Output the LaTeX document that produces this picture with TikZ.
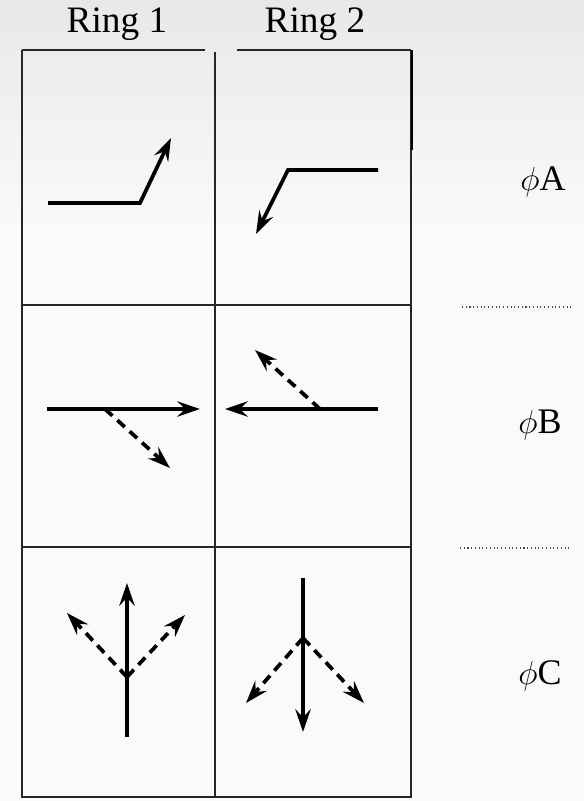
\documentclass[tikz,border=0pt]{standalone}
\usepackage{fontspec}
\setmainfont{Liberation Serif}
\usetikzlibrary{arrows.meta}
\definecolor{bgtop}{HTML}{E8E8E8}
\definecolor{bgbot}{HTML}{F9FAFB}
\tikzset{
  grid/.style={line width=1.1pt, draw=black!85},
  vec/.style={line width=2.8pt, line join=miter, -{Stealth[length=17pt,width=11.5pt,inset=6pt]}},
  dvec/.style={vec, dash pattern=on 7.5pt off 5pt},
  lab/.style={font=\fontsize{28}{32}\selectfont, inner sep=0pt},
  plab/.style={font=\fontsize{27}{31}\selectfont, inner sep=0pt},
  sep/.style={line width=0.8pt, dotted, draw=black!70}
}
\begin{document}
\begin{tikzpicture}[x=0.75pt,y=-0.75pt]
\useasboundingbox (0,0) rectangle (584,801);
\fill[bgbot] (0,0) rectangle (584,801);
\shade[top color=bgtop, bottom color=bgbot] (0,0) rectangle (584,230);
% headers
\node[lab] (r1) at (117,24) {Ring 1};
\node[lab] (r2) at (315,24) {Ring 2};
% grid
\draw[grid] (22,50) -- (205,50);
\draw[grid] (237,50) -- (411,50);
\draw[grid] (22,50) -- (22,797) -- (411,797) -- (411,50);
\draw[line width=2.2pt] (412,50) -- (412,150);
\draw[grid] (215,52) -- (215,797);
\draw[grid] (22,305) -- (411,305);
\draw[grid] (22,547) -- (411,547);
% phase labels
\node[plab] (pa) at (543,182) {$\phi$A};
\node[plab] (pb) at (540,425) {$\phi$B};
\node[plab] (pc) at (540,676) {$\phi$C};
\draw[sep] (462,307) -- (572,307);
\draw[sep] (460,548) -- (570,548);
% phase A
\coordinate (a1s) at (48,203); \coordinate (a1k) at (140,203); \coordinate (a1e) at (171,138);
\draw[vec] (a1s) -- (a1k) -- (a1e);
\coordinate (a2s) at (378,170); \coordinate (a2k) at (288,170); \coordinate (a2e) at (256,234);
\draw[vec] (a2s) -- (a2k) -- (a2e);
% phase B
\coordinate (b1s) at (47,409); \coordinate (b1e) at (200,409);
\coordinate (b1d) at (105,409); \coordinate (b1de) at (170,468);
\draw[vec] (b1s) -- (b1e);
\draw[dvec] (b1d) -- (b1de);
\coordinate (b2s) at (378,409); \coordinate (b2e) at (225,409);
\coordinate (b2d) at (320,409); \coordinate (b2de) at (255,350);
\draw[vec] (b2s) -- (b2e);
\draw[dvec] (b2d) -- (b2de);
% phase C
\coordinate (c1s) at (127,737); \coordinate (c1e) at (127,583);
\coordinate (c1o) at (127,677); \coordinate (c1l) at (67,613); \coordinate (c1r) at (185,615);
\draw[vec] (c1s) -- (c1e);
\draw[dvec] (c1o) -- (c1l);
\draw[dvec] (c1o) -- (c1r);
\coordinate (c2s) at (303,578); \coordinate (c2e) at (303,732);
\coordinate (c2o) at (303,638); \coordinate (c2l) at (246,703); \coordinate (c2r) at (364,703);
\draw[vec] (c2s) -- (c2e);
\draw[dvec] (c2o) -- (c2l);
\draw[dvec] (c2o) -- (c2r);
\end{tikzpicture}
\end{document}
